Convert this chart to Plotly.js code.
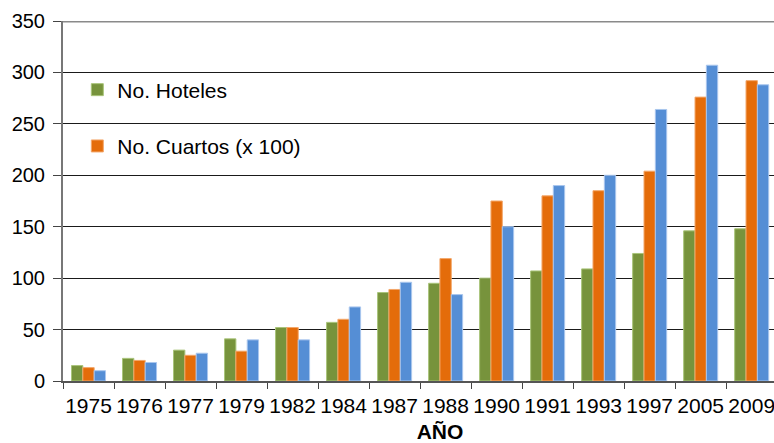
<!DOCTYPE html>
<html>
<head>
<meta charset="utf-8">
<script src="https://cdn.plot.ly/plotly-3.0.1.min.js"></script>
<style>
html,body{margin:0;padding:0;overflow:hidden;background:#fff;}
#chart{width:820px;height:443px;}
</style>
</head>
<body>
<div id="chart"></div>
<script>
const years = ['1975','1976','1977','1979','1982','1984','1987','1988','1990','1991','1993','1997','2005','2009'];
const hoteles = [15,22,30,41,52,57,86,95,100,107,109,124,146,148];
const cuartos = [13,20,25,29,52,60,89,119,175,180,185,204,276,292];
const serie3 = [10,18,27,40,40,72,96,84,150,190,200,264,307,288];
const yTicks = [0,50,100,150,200,250,300,350];

const FONT = '"Liberation Sans", Arial, sans-serif';

const traces = [
  {type:'bar', name:'No. Hoteles', x:years, y:hoteles, legendgroup:'a',
   marker:{color:'#77933C', line:{color:'#a9c47a', width:1}}},
  {type:'bar', name:'No. Cuartos (x 100)', x:years, y:cuartos, legendgroup:'b',
   marker:{color:'#E46C0A', line:{color:'#f3a76a', width:1}}},
  {type:'bar', name:'Serie 3', x:years, y:serie3, legendgroup:'c', showlegend:false,
   marker:{color:'#558ED5', line:{color:'#a9c6ee', width:1}}}
];

const layout = {
  width:820, height:443,
  margin:{l:63, r:3, t:21, b:62},
  paper_bgcolor:'#fff', plot_bgcolor:'#fff',
  font:{family:FONT, size:20, color:'#000'},
  barmode:'group', bargap:0.333, bargroupgap:0,
  showlegend:true,
  legend:{x:0.019, y:0.8653, xanchor:'left', yanchor:'top',
          bgcolor:'rgba(0,0,0,0)', borderwidth:0, tracegroupgap:26,
          traceorder:'grouped', font:{family:FONT, size:21, color:'#000'}},
  xaxis:{type:'category', range:[-0.5, 14.28], tickson:'boundaries', tickangle:0,
         ticks:'outside', ticklen:6, tickwidth:1, tickcolor:'#444', ticklabelstandoff:5,
         showline:true, linecolor:'#555', linewidth:1.5, showgrid:false,
         tickfont:{family:FONT, size:21, color:'#000'},
         title:{text:'<b>AÑO</b>', font:{family:FONT, size:21, color:'#000'}, standoff:8}},
  yaxis:{range:[0,350], tickvals:yTicks, ticks:'outside', ticklen:8, tickwidth:1,
         tickcolor:'#444', showline:true, linecolor:'#777', linewidth:2, ticklabelstandoff:4,
         showgrid:true, gridcolor:'#1a1a1a', gridwidth:1, zeroline:false,
         tickfont:{family:FONT, size:20, color:'#000'}},
  shapes:[
    {type:'rect', xref:'paper', yref:'paper', x0:0.0305, x1:0.3263, y0:0.53, y1:0.847,
     fillcolor:'#fff', line:{width:0}, layer:'between'},
    {type:'line', xref:'paper', x0:0, x1:1, yref:'y', y0:350, y1:350,
     line:{color:'#8a8a8a', width:3}, layer:'above'}
  ]
};

Plotly.newPlot('chart', traces, layout, {displayModeBar:false, staticPlot:true});
</script>
</body>
</html>
